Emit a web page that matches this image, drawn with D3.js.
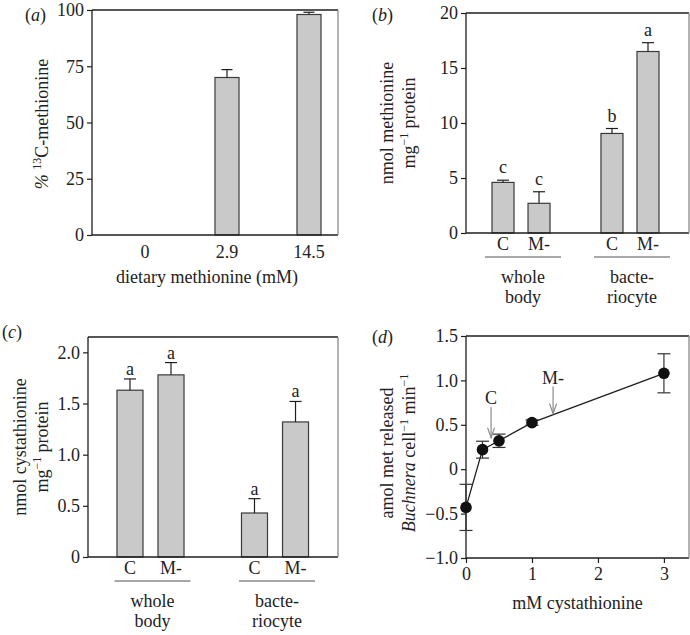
<!DOCTYPE html>
<html><head><meta charset="utf-8">
<script src="https://cdn.jsdelivr.net/npm/d3@7"></script>
<style>
body{margin:0;background:#fff}
svg{display:block}
text{font-family:"Liberation Serif","Times New Roman",serif;fill:#222}
</style>
</head><body><svg id="chart" width="690" height="635"></svg>
<script>
// ---------- data ----------
const dietCategories = ["0", "2.9", "14.5"];
const labelPercent = [0, 70, 98];
const labelPercentErr = [0, 3.5, 1];
const ticksA = [0, 25, 50, 75, 100];

const groups = ["whole body", "bacteriocyte"];
const groupLabelLines = [["whole", "body"], ["bacte-", "riocyte"]];
const treatments = ["C", "M-"];

const methionine = [[4.6, 2.7], [9.05, 16.5]];
const methionineErr = [[0.2, 1.05], [0.45, 0.8]];
const methionineLetters = [["c", "c"], ["b", "a"]];
const ticksB = [0, 5, 10, 15, 20];

const cystathionine = [[1.63, 1.78], [0.43, 1.32]];
const cystathionineErr = [[0.11, 0.12], [0.14, 0.2]];
const cystathionineLetters = [["a", "a"], ["a", "a"]];
const ticksC = [0, 0.5, 1.0, 1.5, 2.0];

const cystConc = [0, 0.25, 0.5, 1, 3];
const metReleased = [-0.43, 0.22, 0.32, 0.525, 1.08];
const metReleasedErr = [0.26, 0.095, 0.075, 0.03, 0.22];
const arrowMarks = [
  {label: "C", x: 0.38, tip: 0.356, tail: 0.70},
  {label: "M-", x: 1.32, tip: 0.626, tail: 0.93}
];
const ticksDy = [-1.0, -0.5, 0, 0.5, 1.0, 1.5];
const ticksDx = [0, 1, 2, 3];

// ---------- style ----------
const FONT = '"Liberation Serif","Times New Roman",serif';
const FS = 18;
const BAR_FILL = "#c9c9c9";
const BAR_STROKE = "#3a3a3a";
const INK = "#1e1e1e";
const RIGHT_GRAY = "#8a8a8a";
const LINE_GRAY = "#a8a8a8";

const svg = d3.select("#chart");

function frame(g, xl, xr, yt, yb) {
  g.append("line").attr("x1", xl).attr("x2", xr).attr("y1", yt).attr("y2", yt).attr("stroke", INK).attr("stroke-width", 1.3);
  g.append("line").attr("x1", xl).attr("x2", xr).attr("y1", yb).attr("y2", yb).attr("stroke", INK).attr("stroke-width", 1.3);
  g.append("line").attr("x1", xl).attr("x2", xl).attr("y1", yt).attr("y2", yb).attr("stroke", INK).attr("stroke-width", 1.3);
  g.append("line").attr("x1", xr).attr("x2", xr).attr("y1", yt).attr("y2", yb).attr("stroke", RIGHT_GRAY).attr("stroke-width", 1.3);
}

function yAxis(g, x, y, ticks, fmt) {
  const a = g.append("g").attr("transform", `translate(${x},0)`)
    .call(d3.axisLeft(y).tickValues(ticks).tickSize(5).tickPadding(3).tickFormat(fmt));
  a.select(".domain").remove();
  a.attr("font-family", FONT).attr("font-size", FS);
  a.selectAll("line").attr("stroke", INK).attr("stroke-width", 1.2);
  a.selectAll("text").attr("fill", "#222");
  return a;
}

function numFmt(d) {
  if (d === 0) return "0";
  return (d < 0 ? "\u2212" : "") + Math.abs(d).toFixed(1);
}

function panelLabel(g, x, y, letter) {
  const t = g.append("text").attr("x", x).attr("y", y).attr("font-size", FS);
  t.append("tspan").text("(");
  t.append("tspan").attr("font-style", "italic").text(letter);
  t.append("tspan").text(")");
}

// rotated multi-part label; parts: [{text, italic, sup}]
function rotLabel(g, cx, cy, parts) {
  const t = g.append("text")
    .attr("transform", `translate(${cx},${cy}) rotate(-90)`)
    .attr("text-anchor", "middle").attr("dominant-baseline", "central")
    .attr("font-size", FS);
  parts.forEach(p => {
    const s = t.append("tspan").text(p.text);
    if (p.italic) s.attr("font-style", "italic");
    if (p.sup) s.attr("font-size", FS * 0.66).attr("dy", -5);
    if (p.after) s.attr("dy", 5);
  });
  return t;
}

function errUp(g, cx, yTop, yErr, cap) {
  g.append("line").attr("x1", cx).attr("x2", cx).attr("y1", yTop).attr("y2", yErr).attr("stroke", INK).attr("stroke-width", 1.2);
  g.append("line").attr("x1", cx - cap / 2).attr("x2", cx + cap / 2).attr("y1", yErr).attr("y2", yErr).attr("stroke", INK).attr("stroke-width", 1.2);
}

// ---------- panel (a) ----------
{
  const g = svg.append("g");
  const xl = 92, xr = 338, yt = 10, yb = 235;
  const y = d3.scaleLinear().domain([0, 100]).range([yb, yt]);
  const x = d3.scaleBand().domain(dietCategories).range([92, 362]).paddingInner(0.707).paddingOuter(0.5);
  dietCategories.forEach((c, i) => {
    if (labelPercent[i] > 0) {
      g.append("rect").attr("x", x(c)).attr("width", x.bandwidth())
        .attr("y", y(labelPercent[i])).attr("height", y(0) - y(labelPercent[i]))
        .attr("fill", BAR_FILL).attr("stroke", BAR_STROKE).attr("stroke-width", 1.2);
      errUp(g, x(c) + x.bandwidth() / 2, y(labelPercent[i]), y(labelPercent[i] + labelPercentErr[i]), 11);
    }
    g.append("text").attr("x", x(c) + x.bandwidth() / 2).attr("y", yb + 23)
      .attr("text-anchor", "middle").attr("font-size", FS).text(c);
  });
  frame(g, xl, xr, yt, yb);
  yAxis(g, xl, y, ticksA, d => String(d));
  g.append("text").attr("x", (xl + xr) / 2 - 8).attr("y", 283).attr("text-anchor", "middle")
    .attr("font-size", FS).text("dietary methionine (mM)");
  rotLabel(g, 42, 124, [{text: "%", italic: true}, {text: " "}, {text: "13", sup: true}, {text: "C-methionine", after: true}]);
  panelLabel(g, 25, 21, "a");
}

// ---------- grouped bar panels (b), (c) ----------
function groupedPanel(opt) {
  const g = svg.append("g");
  const {xl, xr, yt, yb} = opt;
  const y = d3.scaleLinear().domain(opt.yDomain).range([yb, yt]);
  const x0 = d3.scaleBand().domain(groups).range(opt.outerRange).paddingInner(opt.outerPadInner).paddingOuter(opt.outerPadOuter);
  const x1 = d3.scaleBand().domain(treatments).range([0, x0.bandwidth()]).paddingInner(opt.innerPadInner).paddingOuter(opt.innerPadOuter);
  groups.forEach((gr, gi) => {
    treatments.forEach((tr, ti) => {
      const v = opt.values[gi][ti], e = opt.errs[gi][ti];
      const bx = x0(gr) + x1(tr);
      const cx = bx + x1.bandwidth() / 2;
      g.append("rect").attr("x", bx).attr("width", x1.bandwidth())
        .attr("y", y(v)).attr("height", y(0) - y(v))
        .attr("fill", BAR_FILL).attr("stroke", BAR_STROKE).attr("stroke-width", 1.2);
      errUp(g, cx, y(v), y(v + e), 12);
      g.append("text").attr("x", cx).attr("y", y(v + e) - opt.letterGap)
        .attr("text-anchor", "middle").attr("font-size", FS).text(opt.letters[gi][ti]);
      g.append("text").attr("x", cx).attr("y", yb + 17)
        .attr("text-anchor", "middle").attr("font-size", FS).text(tr);
    });
    const gc = x0(gr) + x0.bandwidth() / 2 + 2;
    g.append("line").attr("x1", gc - 38).attr("x2", gc + 38).attr("y1", yb + 24).attr("y2", yb + 24)
      .attr("stroke", LINE_GRAY).attr("stroke-width", 2);
    groupLabelLines[gi].forEach((ln, li) => {
      g.append("text").attr("x", gc).attr("y", yb + 50 + li * 20)
        .attr("text-anchor", "middle").attr("font-size", FS).text(ln);
    });
  });
  frame(g, xl, xr, yt, yb);
  yAxis(g, xl, y, opt.ticks, opt.fmt);
  rotLabel(g, opt.lab1x, opt.labY, [{text: opt.lab1}]);
  rotLabel(g, opt.lab2x, opt.labY, [{text: "mg"}, {text: "\u22121", sup: true}, {text: " protein", after: true}]);
  panelLabel(g, opt.plx, opt.ply, opt.pl);
}

groupedPanel({
  xl: 466, xr: 689, yt: 13, yb: 233,
  yDomain: [0, 20], ticks: ticksB, fmt: d => String(d),
  outerRange: [463.2, 687.8], outerPadInner: 0.339, outerPadOuter: 0.2,
  innerPadInner: 0.389, innerPadOuter: 0.194,
  values: methionine, errs: methionineErr, letters: methionineLetters, letterGap: 7,
  lab1: "nmol methionine", lab1x: 387, lab2x: 409, labY: 123,
  pl: "b", plx: 372, ply: 21
});

groupedPanel({
  xl: 88, xr: 338, yt: 337, yb: 557,
  yDomain: [0, 2.15], ticks: ticksC, fmt: numFmt,
  outerRange: [88.3, 337.2], outerPadInner: 0.341, outerPadOuter: 0.17,
  innerPadInner: 0.366, innerPadOuter: 0.183,
  values: cystathionine, errs: cystathionineErr, letters: cystathionineLetters, letterGap: 4,
  lab1: "nmol cystathionine", lab1x: 20, lab2x: 42, labY: 447,
  pl: "c", plx: 2, ply: 338
});

// ---------- panel (d) ----------
{
  const g = svg.append("g");
  const xl = 466, xr = 689, yt = 336, yb = 558;
  const x = d3.scaleLinear().domain([0, 3.38]).range([xl, xr]);
  const y = d3.scaleLinear().domain([-1, 1.5]).range([yb, yt]);
  frame(g, xl, xr, yt, yb);
  yAxis(g, xl, y, ticksDy, numFmt);
  const xa = g.append("g").attr("transform", `translate(0,${yb})`)
    .call(d3.axisBottom(x).tickValues(ticksDx).tickSize(5).tickPadding(4).tickFormat(d => String(d)));
  xa.select(".domain").remove();
  xa.attr("font-family", FONT).attr("font-size", FS);
  xa.selectAll("line").attr("stroke", INK).attr("stroke-width", 1.2);
  xa.selectAll("text").attr("fill", "#222");

  const pts = cystConc.map((c, i) => ({x: c, y: metReleased[i], e: metReleasedErr[i]}));
  g.append("path").datum(pts)
    .attr("d", d3.line().x(d => x(d.x)).y(d => y(d.y)))
    .attr("fill", "none").attr("stroke", INK).attr("stroke-width", 1.3);
  pts.forEach(p => {
    const cx = x(p.x);
    g.append("line").attr("x1", cx).attr("x2", cx).attr("y1", y(p.y - p.e)).attr("y2", y(p.y + p.e)).attr("stroke", "#333").attr("stroke-width", 1.2);
    [p.y - p.e, p.y + p.e].forEach(v => {
      g.append("line").attr("x1", cx - 6.5).attr("x2", cx + 6.5).attr("y1", y(v)).attr("y2", y(v)).attr("stroke", "#333").attr("stroke-width", 1.2);
    });
    g.append("circle").attr("cx", cx).attr("cy", y(p.y)).attr("r", 5.8).attr("fill", "#111");
  });
  arrowMarks.forEach(a => {
    const ax = x(a.x), yTip = y(a.tip), yTail = y(a.tail);
    g.append("line").attr("x1", ax).attr("x2", ax).attr("y1", yTail).attr("y2", yTip).attr("stroke", "#8a8a8a").attr("stroke-width", 1.2);
    g.append("path").attr("d", `M${ax - 3.5},${yTip - 10}L${ax},${yTip}L${ax + 3.5},${yTip - 10}`)
      .attr("fill", "none").attr("stroke", "#8a8a8a").attr("stroke-width", 1.2);
    g.append("text").attr("x", ax).attr("y", yTail - 3).attr("text-anchor", "middle").attr("font-size", FS).text(a.label);
  });
  g.append("text").attr("x", (xl + xr) / 2).attr("y", 609).attr("text-anchor", "middle")
    .attr("font-size", FS).text("mM cystathionine");
  rotLabel(g, 387, 453, [{text: "amol met released"}]);
  rotLabel(g, 409, 453, [{text: "Buchnera", italic: true}, {text: " cell"}, {text: "\u22121", sup: true}, {text: " min", after: true}, {text: "\u22121", sup: true}]);
  panelLabel(g, 372, 343, "d");
}
</script>
</body></html>
